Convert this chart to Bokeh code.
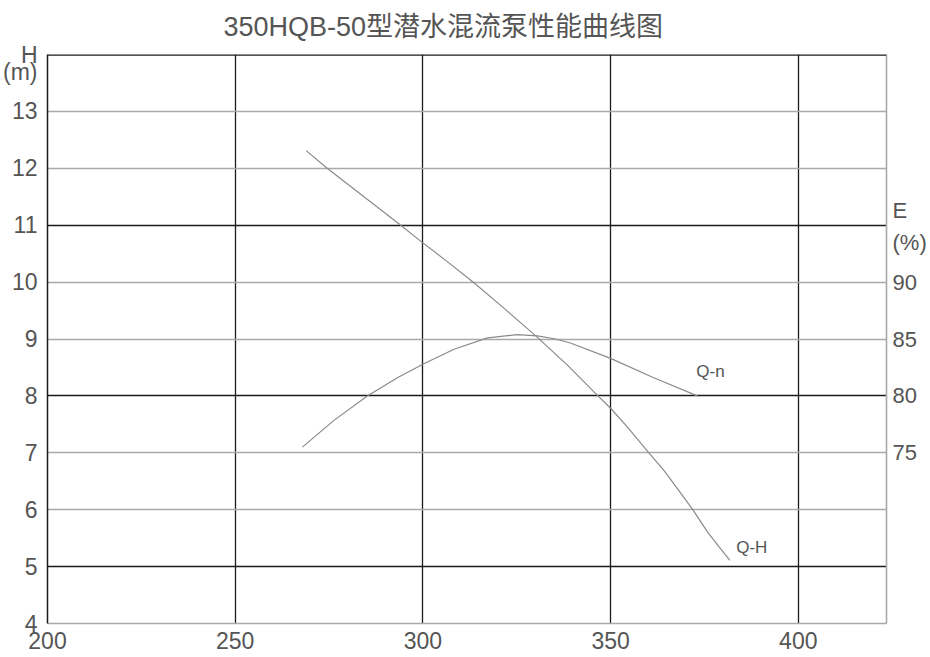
from bokeh.plotting import figure
from bokeh.models import Range1d, LinearAxis, FixedTicker, Grid, Span, Label
from bokeh.embed import file_html
from bokeh.resources import INLINE

# ---------------- data ----------------
title_text = "350HQB-50型潜水混流泵性能曲线图"

flow_ticks = [200, 250, 300, 350, 400]
head_ticks = [4, 5, 6, 7, 8, 9, 10, 11, 12, 13]
eff_ticks = [75, 80, 85, 90]

# unit captions, placed as extra axis labels
head_unit_pos = [13.7, 14]
head_unit_text = ["(m)", "H"]
eff_unit_pos = [93.5, 96.3]
eff_unit_text = ["(%)", "E"]

# Q-H curve (flow, head in m)
qh_flow = [268.9, 274.5, 284.3, 294.1, 299.4, 306.5, 313.6, 321.8, 330.0, 338.5,
           346.5, 350.2, 354.5, 360.2, 364.2, 367.8, 371.8, 375.8, 378.9, 381.8]
qh_head = [12.31, 12.0, 11.5, 11.0, 10.72, 10.36, 9.99, 9.53, 9.06, 8.54,
           8.01, 7.77, 7.45, 7.0, 6.69, 6.37, 6.01, 5.61, 5.345, 5.11]

# Q-n curve (flow, efficiency in %)
qe_flow = [267.9, 276.3, 285.2, 293.2, 300.1, 308.3, 317.2, 325.1, 330.5, 335.3,
           339.3, 350.0, 361.5, 373.1]
qe_eff = [75.5, 77.85, 80.0, 81.6, 82.8, 84.1, 85.1, 85.38, 85.28, 85.0,
          84.65, 83.3, 81.6, 80.0]

curve_names = ["Q-n", "Q-H"]

# ---------------- style ----------------
BLACK = "#1a1a1a"
GRAY = "#a9a9a9"
TEXT = "#555555"
CURVE = "#8a8a8a"
NUM_FONT = "Liberation Sans"

p = figure(width=930, height=657, output_backend="svg", toolbar_location=None,
           x_range=Range1d(200, 423.5), y_range=Range1d(4, 14),
           min_border_left=47, min_border_right=44, min_border_top=53, min_border_bottom=34)
p.extra_y_ranges = {"eff": Range1d(60, 110)}
p.outline_line_color = None
p.background_fill_color = "white"
p.border_fill_color = "white"

# title
p.title.text = title_text
p.title.text_font = "'Liberation Sans', 'Noto Sans CJK SC'"
p.title.text_font_size = "27px"
p.title.text_font_style = "normal"
p.title.text_color = TEXT
p.title.align = "left"
p.title.vertical_align = "top"
p.title.offset = 176
p.title.standoff = 22

# grids
p.xgrid.ticker = FixedTicker(ticks=[250, 300, 350, 400])
p.xgrid.grid_line_color = BLACK
p.xgrid.grid_line_width = 1.3
p.ygrid.ticker = FixedTicker(ticks=[5, 8, 11])
p.ygrid.grid_line_color = BLACK
p.ygrid.grid_line_width = 1.3
g2 = Grid(dimension=1, ticker=FixedTicker(ticks=[6, 7, 9, 10, 12, 13]),
          grid_line_color=GRAY, grid_line_width=1.6)
p.add_layout(g2)
top_edge = Span(location=14, dimension="width", line_color=BLACK, line_width=2.6)
p.add_layout(top_edge)

# axes
bottom_ax = p.below[0]
left_ax = p.left[0]
bottom_ax.ticker = FixedTicker(ticks=flow_ticks)
left_ax.ticker = FixedTicker(ticks=head_ticks + head_unit_pos)
left_ax.major_label_overrides = dict(zip(head_unit_pos, head_unit_text))

right_ax = LinearAxis(y_range_name="eff", ticker=FixedTicker(ticks=eff_ticks + eff_unit_pos))
right_ax.major_label_overrides = dict(zip(eff_unit_pos, eff_unit_text))
p.add_layout(right_ax, "right")

for ax in [bottom_ax, left_ax, right_ax]:
    ax.major_tick_out = 0
    ax.major_tick_in = 0
    ax.minor_tick_out = 0
    ax.minor_tick_in = 0
    ax.major_label_text_font = NUM_FONT
    ax.major_label_text_font_size = "23px"
    ax.major_label_text_color = TEXT

bottom_ax.axis_line_color = GRAY
bottom_ax.axis_line_width = 1.6
bottom_ax.major_label_standoff = 8
left_ax.axis_line_color = BLACK
left_ax.axis_line_width = 1.5
left_ax.major_label_standoff = 10
right_ax.axis_line_color = GRAY
right_ax.axis_line_width = 1.6
right_ax.major_label_standoff = 6
right_ax.major_label_text_font_size = "22px"

# curves
p.line(qh_flow, qh_head, line_color=CURVE, line_width=1.2)
p.line(qe_flow, qe_eff, y_range_name="eff", line_color=CURVE, line_width=1.2)

# curve labels
p.add_layout(Label(x=376.6, y=8.43, text=curve_names[0], text_font=NUM_FONT,
                   text_font_size="17px", text_color=TEXT,
                   text_align="center", text_baseline="middle"))
p.add_layout(Label(x=387.6, y=5.33, text=curve_names[1], text_font=NUM_FONT,
                   text_font_size="17px", text_color=TEXT,
                   text_align="center", text_baseline="middle"))

open("out.html", "w").write(file_html(p, INLINE))
